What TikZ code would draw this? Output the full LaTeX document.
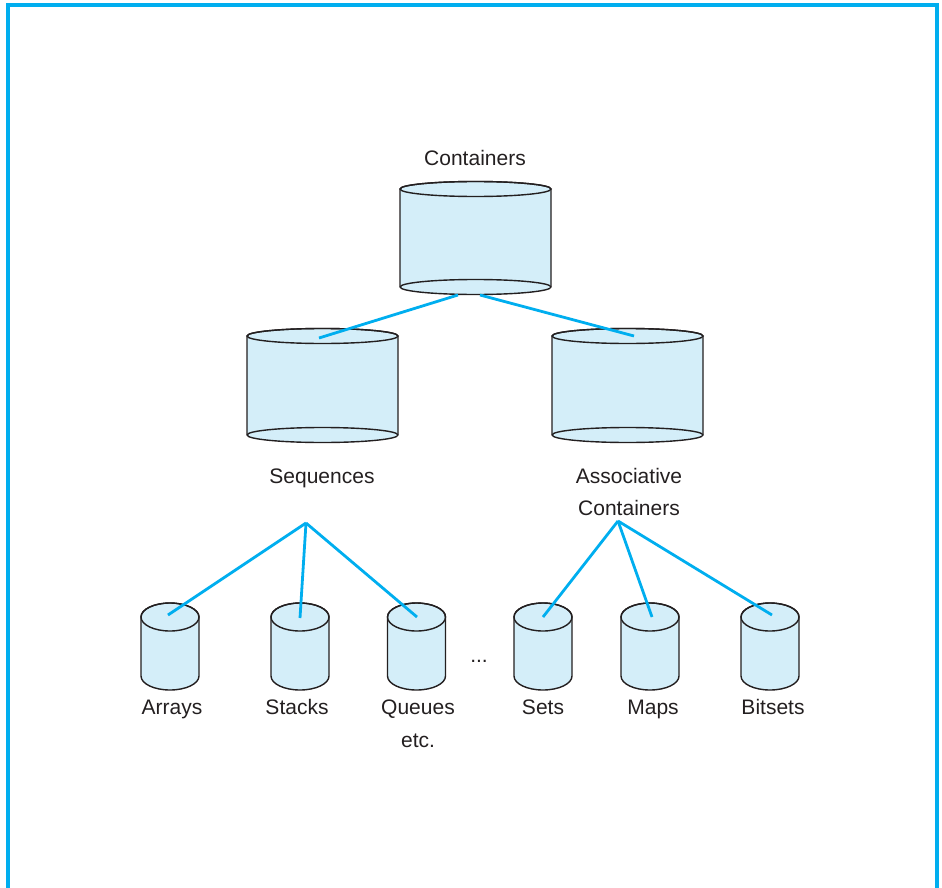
\documentclass[tikz,border=0pt]{standalone}
\usepackage{fontspec}
\setmainfont{Liberation Sans}
\definecolor{framecol}{HTML}{00AEEF}
\definecolor{linkcol}{HTML}{00AEEF}
\definecolor{cylfill}{HTML}{D4EEF9}
\definecolor{cylline}{HTML}{231F20}
\tikzset{
  cylbody/.style={fill=cylfill,draw=cylline,line width=1.4pt,line join=round},
  cylrim/.style={draw=cylline,line width=1.4pt},
  link/.style={draw=linkcol,line width=2.8pt},
  lbl/.style={font=\fontsize{21}{25}\selectfont,text=cylline,inner sep=0pt,anchor=base}
}
% #1 cx, #2 top y, #3 bottom y, #4 rx, #5 ry, #6 full bottom ellipse (1) or not (0)
\newcommand\mycyl[6]{%
  \path[cylbody] (#1-#4,#2) -- (#1-#4,#3)
     arc[start angle=180,end angle=360,x radius=#4,y radius=#5]
     -- (#1+#4,#2)
     arc[start angle=0,end angle=180,x radius=#4,y radius=#5] -- cycle;
  \draw[cylrim] (#1,#2) ellipse[x radius=#4,y radius=#5];
  \ifnum#6=1 \draw[cylrim] (#1+#4,#3) arc[start angle=0,end angle=180,x radius=#4,y radius=#5];\fi
}
\begin{document}
\begin{tikzpicture}[x=1pt,y=1pt]
\useasboundingbox (0,0) rectangle (942,-888);
% frame
\draw[framecol,line width=3.2pt] (8,-890) -- (8,-5) -- (937,-5) -- (937,-890);

% cylinders
\mycyl{475.5}{-189}{-287}{75.5}{7.5}{1}
\mycyl{322.5}{-336}{-435}{75.5}{7.5}{1}
\mycyl{627.5}{-336}{-435}{75.5}{7.5}{1}
\foreach \cx in {170,300,416.5,543,650,770}{
  \mycyl{\cx}{-617}{-676}{29}{14}{0}
}

% connection points
\coordinate (topL) at (458,-295);
\coordinate (topR) at (480,-295);
\coordinate (seqIn) at (319,-338);
\coordinate (assIn) at (634,-336);
\coordinate (seqApex) at (306,-523);
\coordinate (assApex) at (618,-521);
\coordinate (arrIn) at (168,-615);
\coordinate (stkIn) at (300,-618);
\coordinate (queIn) at (417,-617);
\coordinate (setIn) at (543,-617);
\coordinate (mapIn) at (652,-617);
\coordinate (bitIn) at (772,-615);

% connectors
\draw[link] (topL) -- (seqIn);
\draw[link] (topR) -- (assIn);
\draw[link] (seqApex) -- (arrIn);
\draw[link] (seqApex) -- (stkIn);
\draw[link] (seqApex) -- (queIn);
\draw[link] (assApex) -- (setIn);
\draw[link] (assApex) -- (mapIn);
\draw[link] (assApex) -- (bitIn);

% labels
\node[lbl] (lcont) at (475,-165) {Containers};
\node[lbl] (lseq) at (322,-483) {Sequences};
\node[lbl] (lass1) at (629,-483) {Associative};
\node[lbl] (lass2) at (629,-515) {Containers};
\node[lbl] (larr) at (172,-714) {Arrays};
\node[lbl] (lstk) at (297,-714) {Stacks};
\node[lbl] (lque) at (418,-714) {Queues};
\node[lbl] (letc) at (418,-747) {etc.};
\node[lbl] (ldots) at (479,-662) {...};
\node[lbl] (lset) at (543,-714) {Sets};
\node[lbl] (lmap) at (653,-714) {Maps};
\node[lbl] (lbit) at (773,-714) {Bitsets};
\end{tikzpicture}
\end{document}
